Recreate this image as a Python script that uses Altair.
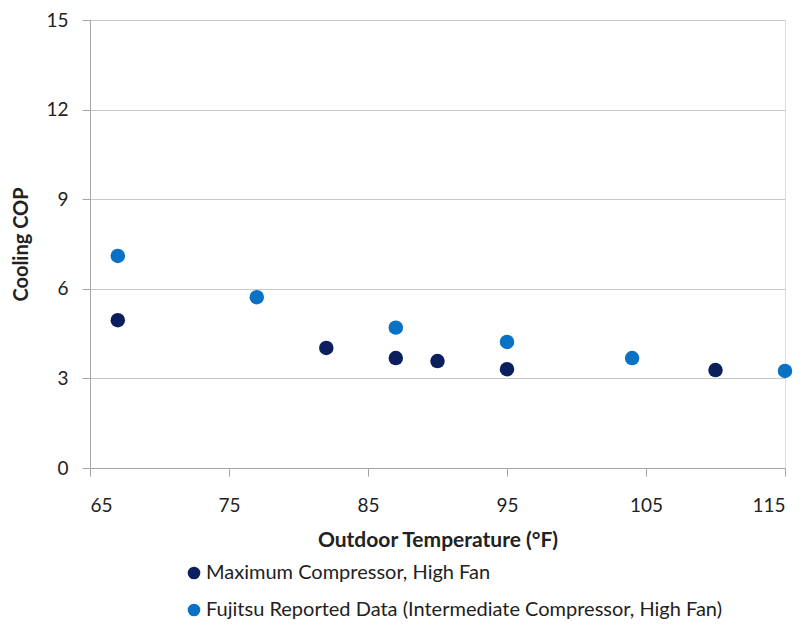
import altair as alt
import pandas as pd

series_max = "Maximum Compressor, High Fan"
series_fuj = "Fujitsu Reported Data (Intermediate Compressor, High Fan)"

max_temp = [67, 82, 87, 90, 95, 110]
max_cop = [4.95, 4.02, 3.68, 3.58, 3.31, 3.28]

fuj_temp = [67, 77, 87, 95, 104, 115]
fuj_cop = [7.10, 5.72, 4.70, 4.22, 3.68, 3.25]

rows = [{"temp": t, "cop": c, "series": series_max} for t, c in zip(max_temp, max_cop)]
rows += [{"temp": t, "cop": c, "series": series_fuj} for t, c in zip(fuj_temp, fuj_cop)]
df = pd.DataFrame(rows)

FONT = "Lato"

chart = alt.Chart(df).mark_circle(size=210, opacity=1).encode(
    x=alt.X("temp:Q", title="Outdoor Temperature (°F)",
            scale=alt.Scale(domain=[65, 115], nice=False, zero=False),
            axis=alt.Axis(values=[65, 75, 85, 95, 105, 115], grid=False,
                          tickSize=8, labelPadding=20, titlePadding=14,
                          labelFontSize=19, titleFontSize=21, titleFontWeight="bold",
                          labelColor="#222", titleColor="#222",
                          domainColor="#a6a6a6", tickColor="#a6a6a6",
                          labelFont=FONT, titleFont=FONT)),
    y=alt.Y("cop:Q", title="Cooling COP",
            scale=alt.Scale(domain=[0, 15], nice=False),
            axis=alt.Axis(values=[0, 3, 6, 9, 12, 15], grid=True, gridColor="#c8c8c8",
                          tickSize=8, labelPadding=14, titlePadding=14,
                          labelFontSize=19, titleFontSize=20, titleFontWeight="bold",
                          labelColor="#222", titleColor="#222",
                          domainColor="#a6a6a6", tickColor="#a6a6a6",
                          labelFont=FONT, titleFont=FONT)),
    color=alt.Color("series:N", title=None,
                    scale=alt.Scale(domain=[series_max, series_fuj], range=["#0b1f5e", "#0a72c4"]),
                    legend=alt.Legend(orient="none", legendX=94, legendY=543, direction="vertical",
                                      symbolType="circle", symbolSize=160, rowPadding=17,
                                      labelFontSize=20, labelFont=FONT, labelColor="#222",
                                      labelLimit=700, symbolStrokeWidth=0, labelOffset=2)),
    order=alt.Order("series:N"),
).properties(
    width=695, height=448,
    padding={"left": 90, "top": 20, "right": 17, "bottom": 157},
    autosize=alt.AutoSizeParams(type="none"),
).configure_view(stroke="#a6a6a6").configure(background="white")

chart.save("out.html", embed_options={"renderer": "svg", "actions": False})
